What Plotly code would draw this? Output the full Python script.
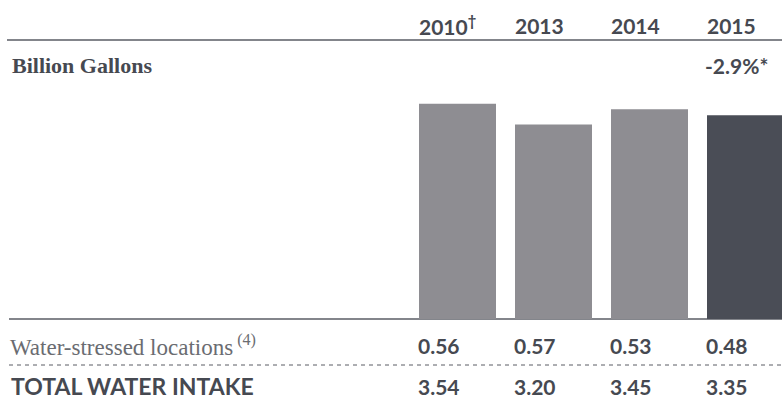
import plotly.graph_objects as go

years = ["2010", "2013", "2014", "2015"]
year_labels = ["2010<sup>†</sup>", "2013", "2014", "2015"]
total_intake = [3.54, 3.20, 3.45, 3.35]
water_stressed = [0.56, 0.57, 0.53, 0.48]
change_label = "-2.9%*"
bar_colors = ["#8e8d92", "#8e8d92", "#8e8d92", "#4a4d56"]

W, H = 782, 404
DARK = "#464951"
SANS = "Lato, 'Open Sans', sans-serif"
SERIF = "'Liberation Serif', 'DejaVu Serif', serif"

def py(p):
    return 1 - p / H

fig = go.Figure()
fig.add_trace(go.Bar(x=years, y=total_intake, marker=dict(color=bar_colors, line=dict(width=0)),
                     hoverinfo="skip"))

step = 96.0
a = -457.5 / step
fig.update_xaxes(type="category", range=[a, a + W / step], visible=False, fixedrange=True)
ppu = 60.8
fig.update_yaxes(range=[-(H - 319) / ppu, 319 / ppu], visible=False, fixedrange=True)

bold_sans = dict(family=SANS, size=21, color=DARK, weight="bold")
ann = []
for i, lab in enumerate(year_labels):
    ann.append(dict(x=i, y=py(25), xref="x", yref="paper", text=lab, showarrow=False,
                    xanchor="left", yanchor="middle", xshift=-41, font=bold_sans))
    ann.append(dict(x=i, y=py(345), xref="x", yref="paper", text=f"{water_stressed[i]:.2f}",
                    showarrow=False, xanchor="left", yanchor="middle", xshift=-42,
                    font=bold_sans))
    ann.append(dict(x=i, y=py(386), xref="x", yref="paper", text=f"{total_intake[i]:.2f}",
                    showarrow=False, xanchor="left", yanchor="middle", xshift=-42,
                    font=bold_sans))

ann.append(dict(x=len(years) - 1, y=py(65), xref="x", yref="paper", text=change_label,
                showarrow=False, xanchor="left", yanchor="middle", xshift=-43, font=bold_sans))
ann.append(dict(x=10 / W, y=py(65), xref="paper", yref="paper", text="Billion Gallons",
                showarrow=False, xanchor="left", yanchor="middle",
                font=dict(family=SERIF, size=22, color=DARK, weight="bold")))
ann.append(dict(x=8 / W, y=py(345), xref="paper", yref="paper",
                text="Water-stressed locations<sup> (4)</sup>",
                showarrow=False, xanchor="left", yanchor="middle",
                font=dict(family=SERIF, size=23, color="#6a6c71")))
ann.append(dict(x=9 / W, y=py(386), xref="paper", yref="paper", text="TOTAL WATER INTAKE",
                showarrow=False, xanchor="left", yanchor="middle",
                font=dict(family=SANS, size=23, color=DARK, weight="bold")))

shapes = [
    dict(type="line", xref="paper", yref="paper", x0=7 / W, x1=1, y0=py(40), y1=py(40),
         line=dict(color="#5a5d64", width=1.5)),
    dict(type="line", xref="paper", yref="paper", x0=9 / W, x1=1, y0=py(319), y1=py(319),
         line=dict(color="#5a5d64", width=1.5), layer="below"),
    dict(type="line", xref="paper", yref="paper", x0=9 / W, x1=1, y0=py(365), y1=py(365),
         line=dict(color="#5a5d64", width=1, dash="4px,4px")),
]

fig.update_layout(width=W, height=H, margin=dict(l=0, r=0, t=0, b=0),
                  paper_bgcolor="white", plot_bgcolor="white", showlegend=False,
                  bargap=0.198, annotations=ann, shapes=shapes)

fig.write_html("out.html", config={"displayModeBar": False},
               post_script="document.body.style.margin='0';document.body.style.overflow='hidden';")
